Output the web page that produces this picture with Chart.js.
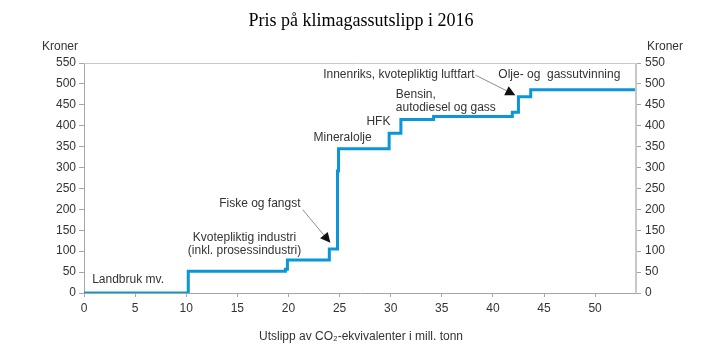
<!DOCTYPE html>
<html>
<head>
<meta charset="utf-8">
<script src="https://cdn.jsdelivr.net/npm/chart.js@4"></script>
<style>
  body { margin: 0; background: #fff; }
  #wrap { width: 723px; height: 353px; }
</style>
</head>
<body>
<div id="wrap"><canvas id="chart" width="723" height="353"></canvas></div>
<script>
// Trappekurve: startpunkt for hvert trinn (mill. tonn, kroner)
const stepX = [0, 10.2, 19.7, 19.9, 24.0, 24.8, 24.9, 29.85, 31.0, 34.2, 41.9, 42.5, 43.7, 54];
const stepY = [0, 52, 57, 79, 105, 292, 345, 382, 415, 422, 432, 469, 486, 486];

const xTicks = [0, 5, 10, 15, 20, 25, 30, 35, 40, 45, 50];
const yTicks = [0, 50, 100, 150, 200, 250, 300, 350, 400, 450, 500, 550];

// Etiketter: tekst, x, y (dataverdier), justering
const labels = [
    { text: 'Landbruk mv.', x: 0.8, y: 33, align: 'left' },
    { text: 'Kvotepliktig industri', x: 15.7, y: 132, align: 'center' },
    { text: '(inkl. prosessindustri)', x: 15.7, y: 100, align: 'center' },
    { text: 'Fiske og fangst', x: 17.2, y: 213, align: 'center' },
    { text: 'Mineralolje', x: 25.3, y: 372, align: 'center' },
    { text: 'HFK', x: 28.8, y: 410, align: 'center' },
    { text: 'Bensin,', x: 30.5, y: 474, align: 'left' },
    { text: 'autodiesel og gass', x: 30.5, y: 443, align: 'left' },
    { text: 'Innenriks, kvotepliktig luftfart', x: 30.8, y: 521, align: 'center' },
    { text: 'Olje- og  gassutvinning', x: 46.5, y: 521, align: 'center' }
];

// Piler: fra (x0,y0) til (x1,y1)
const arrows = [
    { x0: 21.4, y0: 199, x1: 24.1, y1: 120 },
    { x0: 38.3, y0: 521, x1: 42.2, y1: 473 }
];

const points = stepX.map((x, i) => ({ x: x, y: stepY[i] }));

const annotations = {
    id: 'annotations',
    afterDatasetsDraw(chart) {
        const ctx = chart.ctx;
        const xs = chart.scales.x;
        const ys = chart.scales.y;
        const area = chart.chartArea;

        // ramme
        ctx.save();
        ctx.strokeStyle = '#c8c8c8';
        ctx.lineWidth = 1;
        ctx.beginPath();
        ctx.moveTo(area.left, area.top + 0.5);
        ctx.lineTo(area.right - 0.5, area.top + 0.5);
        ctx.lineTo(area.right - 0.5, area.bottom);
        ctx.stroke();

        ctx.font = '12px "Liberation Sans", Arial, sans-serif';
        ctx.fillStyle = '#333';
        ctx.textBaseline = 'middle';
        labels.forEach(l => {
            ctx.textAlign = l.align;
            ctx.fillText(l.text, xs.getPixelForValue(l.x), ys.getPixelForValue(l.y));
        });

        arrows.forEach(a => {
            const px0 = xs.getPixelForValue(a.x0), py0 = ys.getPixelForValue(a.y0);
            const px1 = xs.getPixelForValue(a.x1), py1 = ys.getPixelForValue(a.y1);
            const ang = Math.atan2(py1 - py0, px1 - px0);
            const len = 10, half = 5;
            const bx = px1 - len * Math.cos(ang), by = py1 - len * Math.sin(ang);
            ctx.strokeStyle = '#8c8c8c';
            ctx.lineWidth = 1;
            ctx.beginPath();
            ctx.moveTo(px0, py0);
            ctx.lineTo(bx, by);
            ctx.stroke();
            ctx.fillStyle = '#111';
            ctx.beginPath();
            ctx.moveTo(px1, py1);
            ctx.lineTo(bx + half * Math.sin(ang), by - half * Math.cos(ang));
            ctx.lineTo(bx - half * Math.sin(ang), by + half * Math.cos(ang));
            ctx.closePath();
            ctx.fill();
        });

        // tittel og aksetitler
        ctx.fillStyle = '#000';
        ctx.textAlign = 'center';
        ctx.font = '18px "Liberation Serif", "Times New Roman", serif';
        ctx.fillText('Pris på klimagassutslipp i 2016', 361, 21);

        ctx.fillStyle = '#333';
        ctx.font = '12px "Liberation Sans", Arial, sans-serif';
        ctx.textAlign = 'left';
        ctx.fillText('Kroner', 42, 47);
        ctx.fillText('Kroner', 647, 47);

        ctx.textAlign = 'center';
        ctx.fillText('Utslipp av CO₂-ekvivalenter i mill. tonn', 361, 337);
        ctx.restore();
    }
};

const tickFont = { family: '"Liberation Sans", Arial, sans-serif', size: 12 };

new Chart(document.getElementById('chart'), {
    type: 'line',
    data: {
        datasets: [{
            data: points,
            stepped: 'before',
            borderColor: '#0a96d8',
            borderWidth: 3,
            pointRadius: 0,
            fill: false
        }]
    },
    options: {
        responsive: false,
        animation: false,
        layout: { padding: { top: 63, left: 0, right: 0, bottom: 0 } },
        plugins: { legend: { display: false }, tooltip: { enabled: false } },
        scales: {
            x: {
                type: 'linear',
                min: 0,
                max: 54,
                afterBuildTicks: s => { s.ticks = xTicks.map(v => ({ value: v })); },
                afterFit: s => { s.height = 60; },
                grid: { drawOnChartArea: false, tickLength: 4, color: '#a6a6a6' },
                border: { color: '#a6a6a6' },
                ticks: { color: '#333', font: tickFont, padding: 4, maxRotation: 0 }
            },
            y: {
                position: 'left',
                min: 0,
                max: 550,
                afterBuildTicks: s => { s.ticks = yTicks.map(v => ({ value: v })); },
                afterFit: s => { s.width = 84; },
                grid: { drawOnChartArea: false, tickLength: 5, color: '#a6a6a6' },
                border: { color: '#a6a6a6' },
                ticks: { color: '#333', font: tickFont, padding: 3 }
            },
            y2: {
                position: 'right',
                display: true,
                min: 0,
                max: 550,
                afterBuildTicks: s => { s.ticks = yTicks.map(v => ({ value: v })); },
                afterFit: s => { s.width = 87; },
                grid: { drawOnChartArea: false, tickLength: 5, color: '#a6a6a6' },
                border: { color: '#c8c8c8' },
                ticks: { color: '#333', font: tickFont, padding: 4 }
            }
        }
    },
    plugins: [annotations]
});
</script>
</body>
</html>
